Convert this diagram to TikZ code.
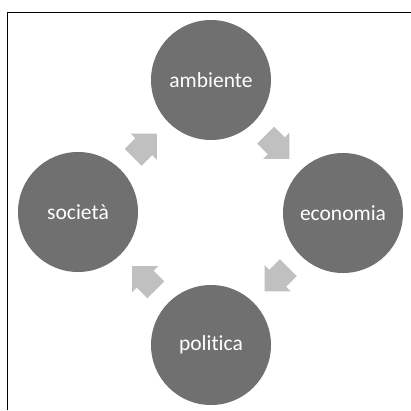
\documentclass[tikz,border=0pt]{standalone}
\usepackage{fontspec}
\setmainfont{Carlito}[Ligatures=NoCommon, RawFeature={-liga;-clig}]
\usetikzlibrary{calc}
\definecolor{discfill}{RGB}{112,112,112}
\definecolor{arrowfill}{RGB}{192,192,192}
\tikzset{
  disc/.style={circle, fill=discfill, minimum size=120pt, inner sep=0pt,
    text=white, font=\fontsize{21.5}{24}\selectfont},
  blockarrow/.style={fill=arrowfill, draw=none},
  frameline/.style={line width=1.3pt, black}
}
% block arrow centred at a coordinate, pointing along the given angle
\newcommand{\cyclearrow}[2]{%
  \fill[blockarrow, shift={(#1)}, rotate=#2]
    (-16,-12) -- (-1,-12) -- (-1,-18.5) -- (17.5,0) -- (-1,18.5) -- (-1,12)
    -- (-16,12) -- cycle;}
\begin{document}
\begin{tikzpicture}[x=1pt, y=-1pt]
  \useasboundingbox (0,0) rectangle (411,410);
  \fill[white] (0,0) rectangle (411,410);
  % frame along the top and left edges
  \draw[frameline] (7.5,410) -- (7.5,12.5) -- (411,12.5);

  % the four topics
  \node[disc] (amb) at (211,80)  {ambiente};
  \node[disc] (eco) at (343,213) {economia};
  \node[disc] (pol) at (211,345) {politica};
  \node[disc] (soc) at (78,212)  {società};

  % arrows between neighbouring topics, clockwise
  \coordinate (a1) at ($(soc)!0.5!(amb)$);
  \coordinate (a2) at ($(amb)!0.5!(eco)$);
  \coordinate (a3) at ($(eco)!0.5!(pol)$);
  \coordinate (a4) at ($(pol)!0.5!(soc)$);
  \cyclearrow{a1}{45}
  \cyclearrow{a2}{-45}
  \cyclearrow{a3}{-135}
  \cyclearrow{a4}{135}
\end{tikzpicture}
\end{document}
